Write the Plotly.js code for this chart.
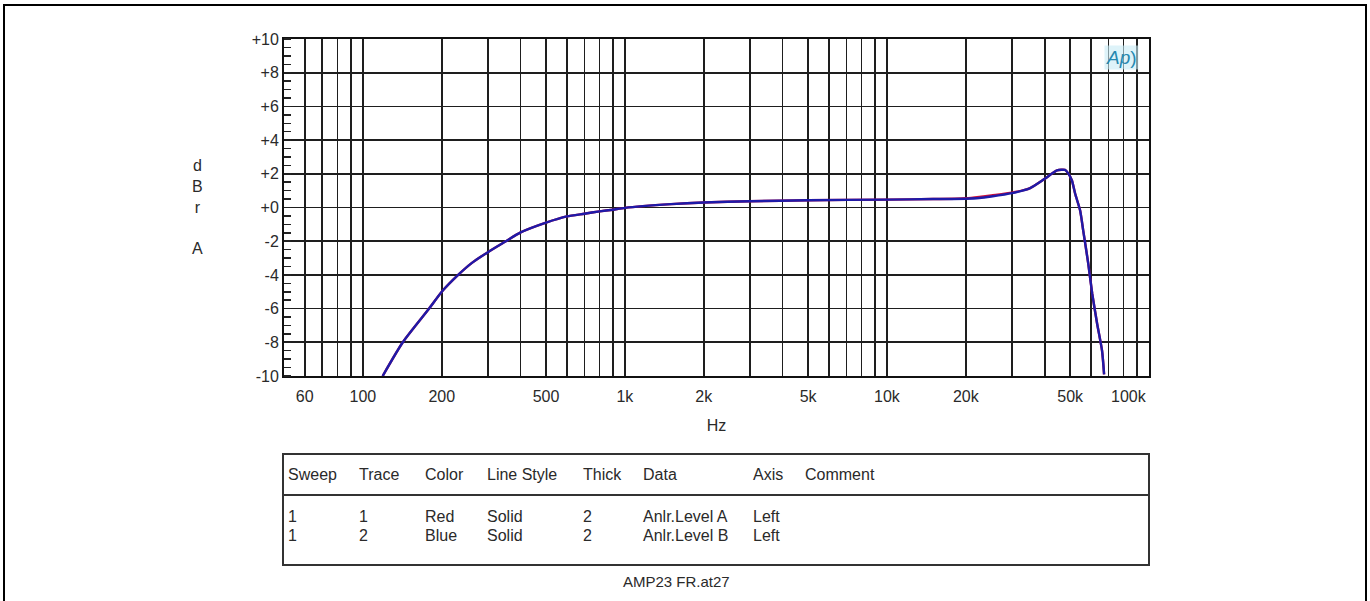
<!DOCTYPE html>
<html>
<head>
<meta charset="utf-8">
<script src="https://cdn.plot.ly/plotly-3.0.1.min.js"></script>
<style>
  html, body { margin: 0; padding: 0; background: #ffffff; }
  #chart { width: 1370px; height: 601px; }
</style>
</head>
<body>
<div id="chart"></div>
<script>
// ---------------- DATA ----------------
const freqHz = [119, 142, 179, 200, 231, 260, 300, 350, 400, 500, 600, 700, 800, 900, 1000,
  1500, 2000, 3000, 5000, 10000, 15000, 20000, 22500, 25000, 30000, 35200, 40000,
  44600, 47800, 49100, 50800, 52300, 54600, 56100, 58600, 60700, 63400, 66200, 67400];

// Trace 1: Anlr.Level A (Red)
const levelA = [-10, -8, -6, -5.0, -4, -3.3, -2.65, -2.02, -1.48, -0.9, -0.53, -0.37, -0.23, -0.13, -0.02,
  0.2, 0.3, 0.37, 0.43, 0.47, 0.5, 0.55, 0.63, 0.72, 0.88, 1.15, 1.7,
  2.2, 2.23, 2.04, 1.6, 0.8, -0.18, -1.37, -3.3, -5.1, -6.9, -8.5, -9.9];

// Trace 2: Anlr.Level B (Blue)
const levelB = [-10, -8, -6, -5.0, -4, -3.3, -2.65, -2.02, -1.48, -0.9, -0.53, -0.37, -0.23, -0.13, -0.02,
  0.2, 0.3, 0.37, 0.43, 0.47, 0.5, 0.52, 0.56, 0.65, 0.85, 1.15, 1.7,
  2.2, 2.23, 2.04, 1.6, 0.8, -0.18, -1.37, -3.3, -5.1, -6.9, -8.5, -9.9];

// X-axis gridline frequencies and labels
const xGridFreqs = [50, 60, 70, 80, 90, 100, 200, 300, 400, 500, 600, 700, 800, 900,
  1000, 2000, 3000, 4000, 5000, 6000, 7000, 8000, 9000,
  10000, 20000, 30000, 40000, 50000, 60000, 70000, 80000, 90000, 100000];
const xGridLabels = ['', '60', '', '', '', '100', '200', '', '', '500', '', '', '', '',
  '1k', '2k', '', '', '5k', '', '', '', '',
  '10k', '20k', '', '', '50k', '', '', '', '', '100k'];

// Y-axis ticks
const yTickVals = [-10, -8, -6, -4, -2, 0, 2, 4, 6, 8, 10];
const yTickLabels = ['-10', '-8', '-6', '-4', '-2', '+0', '+2', '+4', '+6', '+8', '+10'];

// Legend table
const tableHeaders = ['Sweep', 'Trace', 'Color', 'Line Style', 'Thick', 'Data', 'Axis', 'Comment'];
const tableRow1 = ['1', '1', 'Red', 'Solid', '2', 'Anlr.Level A', 'Left', ''];
const tableRow2 = ['1', '2', 'Blue', 'Solid', '2', 'Anlr.Level B', 'Left', ''];
const footerText = 'AMP23 FR.at27';
const yTitleText = 'd<br>B<br>r<br><br>A';

// ---------------- LAYOUT ----------------
const L = 284, R = 1149, T = 39, B = 376;
const xp = px => (px - L) / (R - L);
const yp = py => (B - py) / (B - T);
const FONT = 'Liberation Sans, Arial, sans-serif';
const txtColor = '#2a2a2a';

const traces = [
  { x: freqHz, y: levelA, type: 'scatter', mode: 'lines', name: 'Anlr.Level A',
    line: { color: '#d0103a', width: 2.4, shape: 'spline', smoothing: 0.6 }, hoverinfo: 'x+y' },
  { x: freqHz, y: levelB, type: 'scatter', mode: 'lines', name: 'Anlr.Level B',
    line: { color: '#1e1aa8', width: 2.4, shape: 'spline', smoothing: 0.6 }, hoverinfo: 'x+y' }
];

const colX = [286, 357, 423, 485, 581, 641, 751, 803];
const rowY = [474, 516, 535];

const annotations = [];
[tableHeaders, tableRow1, tableRow2].forEach((row, ri) => {
  row.forEach((t, ci) => {
    if (!t) return;
    annotations.push({
      xref: 'paper', yref: 'paper', x: xp(colX[ci]), y: yp(rowY[ri]),
      xanchor: 'left', yanchor: 'middle', showarrow: false, text: t,
      font: { family: FONT, size: 16, color: txtColor }
    });
  });
});
annotations.push({
  xref: 'paper', yref: 'paper', x: xp(676), y: yp(581), xanchor: 'center', yanchor: 'middle',
  showarrow: false, text: footerText, font: { family: FONT, size: 15, color: txtColor }
});
annotations.push({
  xref: 'paper', yref: 'paper', x: xp(197), y: yp(207), xanchor: 'center', yanchor: 'middle',
  showarrow: false, text: yTitleText, font: { family: FONT, size: 16, color: txtColor }
});
annotations.push({
  xref: 'paper', yref: 'paper', x: 1, y: yp(396), xanchor: 'right', yanchor: 'middle',
  showarrow: false, text: '100k', font: { family: FONT, size: 16, color: txtColor }
});
annotations.push({
  xref: 'paper', yref: 'paper', x: xp(1121), y: yp(58), xanchor: 'center', yanchor: 'middle',
  showarrow: false, text: '<i>Ap</i>)', bgcolor: 'rgba(200,235,245,0.6)',
  font: { family: FONT, size: 19, color: '#2688b0' }
});

const labelsNo100k = xGridLabels.map(s => (s === '100k' ? '' : s));

const layout = {
  width: 1370, height: 601,
  margin: { l: L, r: 1370 - R, t: T, b: 601 - B, pad: 0 },
  paper_bgcolor: '#ffffff', plot_bgcolor: '#ffffff',
  showlegend: false,
  xaxis: {
    type: 'log', range: [Math.log10(50), Math.log10(100000)],
    tickmode: 'array', tickvals: xGridFreqs, ticktext: labelsNo100k,
    showgrid: true, gridcolor: '#1e1e1e', gridwidth: 1.6,
    zeroline: false, ticks: '', showline: true, linecolor: '#111', linewidth: 2, mirror: true,
    tickfont: { family: FONT, size: 16, color: txtColor }, ticklabelstandoff: 5,
    title: { text: 'Hz', font: { family: FONT, size: 16, color: txtColor }, standoff: 16 },
    automargin: false
  },
  yaxis: {
    range: [-10, 10], tickmode: 'array', tickvals: yTickVals, ticktext: yTickLabels,
    showgrid: true, gridcolor: '#1e1e1e', gridwidth: 1.6,
    zeroline: false, ticks: '', showline: true, linecolor: '#111', linewidth: 2, mirror: true,
    tickfont: { family: FONT, size: 16, color: txtColor },
    minor: { dtick: 0.5, tick0: 0, ticks: 'inside', ticklen: 7, tickwidth: 1.5, tickcolor: '#222', showgrid: false },
    automargin: false
  },
  shapes: [
    { type: 'rect', xref: 'paper', yref: 'paper', x0: xp(4), x1: xp(1366), y0: yp(610), y1: yp(5),
      line: { color: '#000', width: 2 } },
    { type: 'rect', xref: 'paper', yref: 'paper', x0: xp(283), x1: xp(1149), y0: yp(565), y1: yp(454),
      line: { color: '#333', width: 2 } },
    { type: 'line', xref: 'paper', yref: 'paper', x0: xp(283), x1: xp(1149), y0: yp(495), y1: yp(495),
      line: { color: '#333', width: 2 } }
  ],
  annotations: annotations
};

Plotly.newPlot('chart', traces, layout, { displayModeBar: false, staticPlot: true });
</script>
</body>
</html>
